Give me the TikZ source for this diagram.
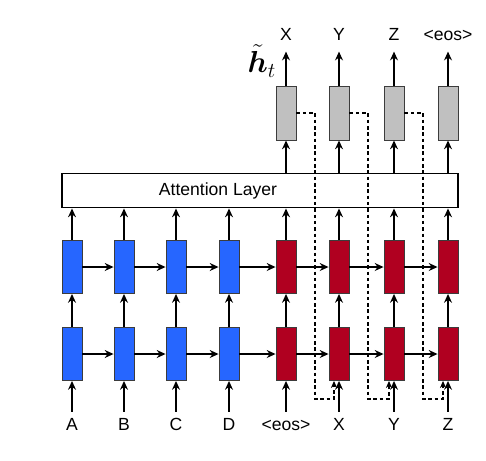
\documentclass[tikz,border=0pt]{standalone}
\usepackage{amsmath}
\usepackage{amssymb}
\usepackage{fontspec}
\setmainfont{Liberation Sans}
\usepackage{tikz}
\usetikzlibrary{arrows.meta}
\definecolor{encblue}{RGB}{38,102,255}
\definecolor{decred}{RGB}{176,0,32}
\definecolor{outgray}{RGB}{192,192,192}
\definecolor{edgegray}{RGB}{60,60,60}
\tikzstyle{arrow} = [line width=0.8pt,-{Stealth[length=5pt,width=4.5pt]}]
\tikzstyle{feed} = [line width=0.6pt,dash pattern=on 2pt off 1.6pt,-{Stealth[length=4pt,width=3.5pt]}]
\tikzstyle{cell} = [rectangle, draw=edgegray, line width=0.5pt, minimum width=0.4cm, minimum height=1.06cm, inner sep=0pt]
\tikzstyle{enc} = [cell, fill=encblue]
\tikzstyle{dec} = [cell, fill=decred]
\tikzstyle{outcell} = [cell, fill=outgray, minimum height=1.08cm]
\tikzstyle{word} = [anchor=base, text height=7.2pt, text depth=0pt, font=\fontsize{10}{12}\selectfont]
\tikzstyle{outword} = [word, inner ysep=6pt, inner xsep=1pt]

\begin{document}
\begin{tikzpicture}[x=0.02cm,y=-0.02cm]
\useasboundingbox (0,0) rectangle (486,460);

% encoder and decoder, two layers
\node (enc1a) [enc] at (72,354) {};
\node (enc2a) [enc] at (124,354) {};
\node (enc3a) [enc] at (176,354) {};
\node (enc4a) [enc] at (229,354) {};
\node (dec1a) [dec] at (286,354) {};
\node (dec2a) [dec] at (339,354) {};
\node (dec3a) [dec] at (394,354) {};
\node (dec4a) [dec] at (448,354) {};
\node (enc1b) [enc] at (72,267) {};
\node (enc2b) [enc] at (124,267) {};
\node (enc3b) [enc] at (176,267) {};
\node (enc4b) [enc] at (229,267) {};
\node (dec1b) [dec] at (286,267) {};
\node (dec2b) [dec] at (339,267) {};
\node (dec3b) [dec] at (394,267) {};
\node (dec4b) [dec] at (448,267) {};

% attention
\node (attn) [rectangle, draw=black, line width=0.8pt, minimum width=7.92cm, minimum height=0.69cm] at (260,190.5) {};
\node (attntxt) [font=\fontsize{10}{12}\selectfont] at (218,190.5) {Attention Layer};

\node (out1) [outcell] at (286,113) {};
\node (out2) [outcell] at (339,113) {};
\node (out3) [outcell] at (394,113) {};
\node (out4) [outcell] at (448,113) {};
\node (ht) [font=\fontsize{17}{20}\selectfont, inner sep=0pt] at (262,61) {$\tilde{\boldsymbol{h}}_t$};

% words
\node (inA) [word] at (72,430.7) {A};
\node (inB) [word] at (124,430.7) {B};
\node (inC) [word] at (176,430.7) {C};
\node (inD) [word] at (229,430.7) {D};
\node (inEos) [word] at (286,430.7) {<eos>};
\node (inX) [word] at (339,430.7) {X};
\node (inY) [word] at (394,430.7) {Y};
\node (inZ) [word] at (448,430.7) {Z};
\node (outX) [outword] at (286,40.7) {X};
\node (outY) [outword] at (339,40.7) {Y};
\node (outZ) [outword] at (394,40.7) {Z};
\node (outEos) [outword] at (448,40.7) {<eos>};

\draw [arrow] (inA) -- (enc1a);
\draw [arrow] (inB) -- (enc2a);
\draw [arrow] (inC) -- (enc3a);
\draw [arrow] (inD) -- (enc4a);
\draw [arrow] (inEos) -- (dec1a);
\draw [arrow] (inX) -- (dec2a);
\draw [arrow] (inY) -- (dec3a);
\draw [arrow] (inZ) -- (dec4a);

\draw [arrow] (enc1a) -- (enc2a);
\draw [arrow] (enc2a) -- (enc3a);
\draw [arrow] (enc3a) -- (enc4a);
\draw [arrow] (enc4a) -- (dec1a);
\draw [arrow] (dec1a) -- (dec2a);
\draw [arrow] (dec2a) -- (dec3a);
\draw [arrow] (dec3a) -- (dec4a);
\draw [arrow] (enc1b) -- (enc2b);
\draw [arrow] (enc2b) -- (enc3b);
\draw [arrow] (enc3b) -- (enc4b);
\draw [arrow] (enc4b) -- (dec1b);
\draw [arrow] (dec1b) -- (dec2b);
\draw [arrow] (dec2b) -- (dec3b);
\draw [arrow] (dec3b) -- (dec4b);

\draw [arrow] (enc1a) -- (enc1b);
\draw [arrow] (enc2a) -- (enc2b);
\draw [arrow] (enc3a) -- (enc3b);
\draw [arrow] (enc4a) -- (enc4b);
\draw [arrow] (dec1a) -- (dec1b);
\draw [arrow] (dec2a) -- (dec2b);
\draw [arrow] (dec3a) -- (dec3b);
\draw [arrow] (dec4a) -- (dec4b);

\draw [arrow] (enc1b.north) -- (enc1b.north |- attn.south);
\draw [arrow] (enc2b.north) -- (enc2b.north |- attn.south);
\draw [arrow] (enc3b.north) -- (enc3b.north |- attn.south);
\draw [arrow] (enc4b.north) -- (enc4b.north |- attn.south);
\draw [arrow] (dec1b.north) -- (dec1b.north |- attn.south);
\draw [arrow] (dec2b.north) -- (dec2b.north |- attn.south);
\draw [arrow] (dec3b.north) -- (dec3b.north |- attn.south);
\draw [arrow] (dec4b.north) -- (dec4b.north |- attn.south);

\draw [arrow] (out1.south |- attn.north) -- (out1.south);
\draw [arrow] (out2.south |- attn.north) -- (out2.south);
\draw [arrow] (out3.south |- attn.north) -- (out3.south);
\draw [arrow] (out4.south |- attn.north) -- (out4.south);

\draw [arrow] (out1) -- (outX);
\draw [arrow] (out2) -- (outY);
\draw [arrow] (out3) -- (outZ);
\draw [arrow] (out4) -- (outEos);

% feed previous output back in
\draw [feed] (out1.east) -| (315,399) -| ([xshift=-0.1cm]dec2a.south);
\draw [feed] (out2.east) -| (368,399) -| ([xshift=-0.1cm]dec3a.south);
\draw [feed] (out3.east) -| (423,399) -| ([xshift=-0.1cm]dec4a.south);
\end{tikzpicture}
\end{document}
